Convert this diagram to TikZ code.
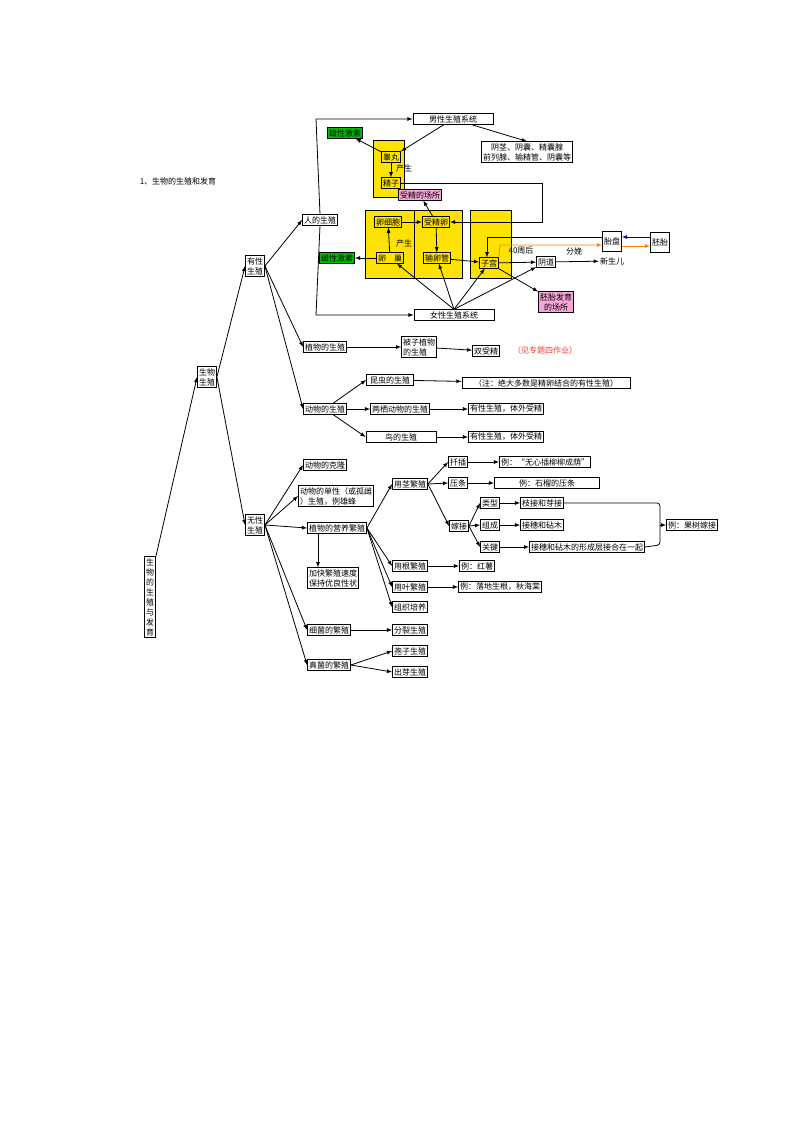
\documentclass[tikz,border=0pt]{standalone}
\usepackage{fontspec}
\setmainfont{Noto Sans CJK SC}
\usetikzlibrary{positioning}
\tikzset{
    box/.style={rectangle, draw, thick, inner sep=1.5pt, align=left, font=\fontsize{8}{10}\selectfont},
    txt/.style={inner sep=1pt, font=\fontsize{8}{10}\selectfont},
    hot/.style={box, fill=green!75!black},
    place/.style={box, fill=magenta!35, align=center},
    zone/.style={draw, fill=yellow!85!orange},
    arr/.style={-latex, thick},
}
\begin{document}
\begin{tikzpicture}[x=1pt, y=-1pt]
    \useasboundingbox (0,0) rectangle (800,1132);
    \node[txt] (title) at (178,181) {1、生物的生殖和发育};

    % yellow zones
    \draw[zone] (373,140) rectangle (404,197);
    \draw[zone] (365,210) rectangle (414,278);
    \draw[zone] (414,210) rectangle (462,278);
    \draw[zone] (470,210) rectangle (511,278);

    % tree
    \node (root) [box, align=center] at (150,597) {生\\物\\的\\生\\殖\\与\\发\\育};
    \node (life) [box] at (207,377) {生物\\生殖};
    \node (sex) [box] at (255,266) {有性\\生殖};
    \node (asex) [box] at (255,525) {无性\\生殖};
    \node (human) [box] at (320,220) {人的生殖};
    \node (plant) [box] at (325,347) {植物的生殖};
    \node (animal) [box] at (325,409) {动物的生殖};

    % human
    \node (male) [box, minimum width=80] at (453,119) {男性生殖系统};
    \node (female) [box, minimum width=80] at (454,315) {女性生殖系统};
    \node (andro) [hot] at (345,133) {雄性激素};
    \node (testis) [box] at (391,157) {睾丸};
    \node (sperm) [box] at (391,183) {精子};
    \node (organs) [box, align=center] at (527,152) {阴茎、阴囊、精囊腺\\前列腺、输精管、阴囊等};
    \node (fertpl) [place] at (420,195) {受精的场所};
    \node (egg) [box] at (388,222) {卵细胞};
    \node (zyg) [box] at (436,222) {受精卵};
    \node (ovary) [box] at (390,258) {卵\quad 巢};
    \node (tube) [box] at (437,258) {输卵管};
    \node (uterus) [box] at (489,263) {子宫};
    \node (estro) [hot] at (337,258) {雌性激素};
    \node (vagina) [box] at (546,262) {阴道};
    \node (baby) [txt] at (612,261) {新生儿};
    \node (plac) [box, minimum height=20] at (612,241) {胎盘};
    \node (embryo) [box, minimum height=20] at (660,242) {胚胎};
    \node (devpl) [place] at (556,302) {胚胎发育\\的场所};
    \node[txt] at (404,168) {产生};
    \node[txt] at (404,243) {产生};
    \node[txt] at (521,251) {40周后};
    \node[txt] at (574,251) {分娩};

    \draw[arr] (human.north) -- (316,119) -- (male);
    \draw[arr] (human.south) -- (316,315) -- (female);
    \draw[arr] (male) -- (testis.north east);
    \draw[arr] (male) -- (organs.north);
    \draw[arr] (testis) -- (andro);
    \draw[arr] (testis) -- (sperm);
    \draw[arr] (sperm) -- (542,183) -- (542,222) -- (zyg);
    \draw[arr] (egg) -- (zyg);
    \draw[arr] (zyg) -- (fertpl);
    \draw[arr] (zyg) -- (tube);
    \draw[arr] (ovary) -- (egg);
    \draw[arr] (ovary) -- (estro);
    \draw[arr] (tube) -- (uterus);
    \draw[arr] (uterus) -- (vagina);
    \draw[arr] (vagina) -- (baby);
    \draw[arr] (uterus) -- (devpl);
    \draw[arr] (plac.west |- 0,237) -- (487,237) -- (uterus.north -| 487,0);
    \draw[arr, orange] (uterus.north east) -- (500,245) -- (plac.west |- 0,245);
    \draw[arr, orange] (plac.east |- 0,246) -- (embryo.west |- 0,246);
    \draw[arr, blue!70!black] (embryo.west |- 0,237) -- (plac.east |- 0,237);
    \foreach \t in {ovary, tube, uterus, vagina}
        \draw[arr] (female.north) -- (\t);

    % plants and animals
    \node (angio) [box] at (419,347) {被子植物\\的生殖};
    \node (double) [box] at (486,351) {双受精};
    \node[txt, red!80] (note) at (545,350) {（见专题四作业）};
    \node (insect) [box, minimum width=47] at (390,380) {昆虫的生殖};
    \node (amph) [box] at (400,409) {两栖动物的生殖};
    \node (bird) [box, minimum width=70] at (401,437) {鸟的生殖};
    \node (inote) [box, minimum width=168] at (546,383) {（注：绝大多数是精卵结合的有性生殖）};
    \node (anote) [box] at (506,409) {有性生殖，体外受精};
    \node (bnote) [box] at (506,437) {有性生殖，体外受精};

    \draw[arr] (plant) -- (angio);
    \draw[arr] (angio) -- (double);
    \draw[arr] (animal) -- (insect.west);
    \draw[arr] (animal) -- (amph);
    \draw[arr] (animal) -- (bird.west);
    \draw[arr] (insect) -- (inote);
    \draw[arr] (amph) -- (anote);
    \draw[arr] (bird) -- (bnote);

    % asexual
    \node (clone) [box] at (325,465) {动物的克隆};
    \node (parth) [box] at (336,496) {动物的单性（或孤雌\\）生殖，例雄蜂};
    \node (veg) [box] at (337,528) {植物的营养繁殖};
    \node (merit) [box] at (333,578) {加快繁殖速度\\保持优良性状};
    \node (bact) [box] at (329,630) {细菌的繁殖};
    \node (fungi) [box] at (329,665) {真菌的繁殖};
    \node (stem) [box] at (410,484) {用茎繁殖};
    \node (cut) [box] at (458,462) {扦插};
    \node (layer) [box] at (458,483) {压条};
    \node (graft) [box] at (459,526) {嫁接};
    \node (cutex) [box] at (545,462) {例：“无心插柳柳成荫”};
    \node (layex) [box, minimum width=105] at (547,483) {例：石榴的压条};
    \node (kind) [box] at (490,503) {类型};
    \node (part) [box] at (490,525) {组成};
    \node (key) [box] at (490,547) {关键};
    \node (kindex) [box] at (542,503) {枝接和芽接};
    \node (partex) [box] at (542,525) {接穗和砧木};
    \node (keyex) [box] at (587,547) {接穗和砧木的形成层接合在一起};
    \node (fruit) [box] at (692,525) {例：果树嫁接};
    \node (root2) [box] at (410,566) {用根繁殖};
    \node (leaf) [box] at (410,587) {用叶繁殖};
    \node (tissue) [box] at (410,607) {组织培养};
    \node (rootex) [box] at (477,566) {例：红薯};
    \node (leafex) [box] at (500,587) {例：落地生根，秋海棠};
    \node (split) [box] at (410,630) {分裂生殖};
    \node (spore) [box] at (410,651) {孢子生殖};
    \node (bud) [box] at (410,672) {出芽生殖};

    \draw[arr] (root.north east) -- (life.west);
    \draw[arr] (life.east) -- (sex.west);
    \draw[arr] (life.east) -- (asex.west);
    \draw[arr] (sex.east) -- (human.west);
    \draw[arr] (sex.east) -- (plant.west);
    \draw[arr] (sex.east) -- (animal.west);
    \foreach \t in {clone, parth, veg, bact, fungi}
        \draw[arr] (asex.east) -- (\t.west);
    \draw[arr] (veg.south -| 318,0) -- (merit.north -| 318,0);
    \foreach \t in {stem, root2, leaf, tissue}
        \draw[arr] (veg.east) -- (\t.west);
    \foreach \t in {cut, layer, graft}
        \draw[arr] (stem.east) -- (\t.west);
    \foreach \t in {kind, part, key}
        \draw[arr] (graft.east) -- (\t.west);
    \draw[arr] (cut) -- (cutex);
    \draw[arr] (layer) -- (layex);
    \draw[arr] (kind) -- (kindex);
    \draw[arr] (part) -- (partex);
    \draw[arr] (key) -- (keyex);
    \draw[arr] (root2) -- (rootex);
    \draw[arr] (leaf) -- (leafex);
    \draw[arr] (bact) -- (split);
    \draw[arr] (fungi.east) -- (spore.west);
    \draw[arr] (fungi.east) -- (bud.west);
    \draw[thick, rounded corners=3] (kindex.east) -- (660,503) -- (660,545) -- (keyex.east);
    \draw[arr] (660,525) -- (fruit);
\end{tikzpicture}
\end{document}
